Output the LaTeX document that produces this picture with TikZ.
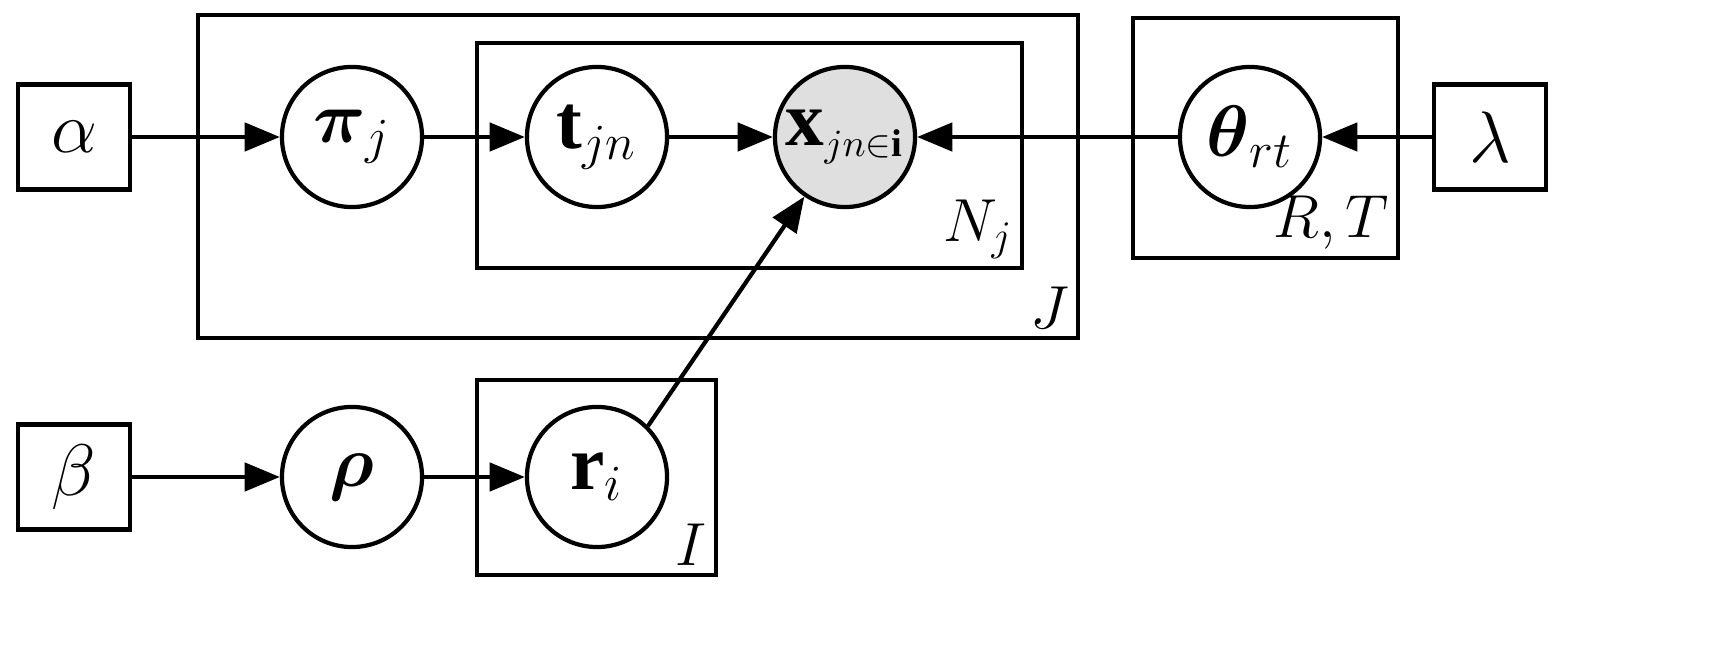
\documentclass[tikz,border=0pt]{standalone}
\usepackage{amsmath}
\usepackage{fontspec}
\setmainfont{Liberation Serif}
\usetikzlibrary{arrows.meta}

\begin{document}
\begin{tikzpicture}[x=0.01cm,y=-0.01cm]
\tikzstyle{every path}=[very thick]
\tikzstyle{var}=[circle,draw,minimum size=1.4cm,inner sep=0pt,font=\fontsize{22}{26}\selectfont]
\tikzstyle{hyper}=[draw,minimum width=1.12cm,minimum height=1.05cm,inner sep=0pt,font=\fontsize{22}{26}\selectfont]
\tikzstyle{plate}=[draw,very thick]
\tikzstyle{platelabel}=[anchor=south east,inner sep=2pt,font=\fontsize{17}{20}\selectfont]
\tikzstyle{edge}=[-{Triangle[length=10pt,width=8pt]},very thick]

\useasboundingbox (0,0) rectangle (1735,655);

%% Plates
\draw [plate] (198,15) rectangle (1078,338);
\node [platelabel] at (1078,338) {$J$};
\draw [plate] (477,43) rectangle (1022,268);
\node [platelabel] at (1022,268) {$N_j$};
\draw [plate] (1133,18) rectangle (1398,258);
\node [platelabel] at (1398,258) {$R,T$};
\draw [plate] (477,380) rectangle (716,575);
\node [platelabel] at (716,575) {$I$};

%% Variables
\node [hyper] (alpha) at (74,137) {$\alpha$};
\node [var] (pi) at (352,137) {$\boldsymbol{\pi}_{j}$};
\node [var] (t) at (597,137) {$\mathbf{t}_{jn}$};
\node [var,fill=gray!25] (x) at (845,137) {$\mathbf{x}_{\scriptscriptstyle jn\in\mathbf{i}}$};
\node [var] (theta) at (1250,137) {$\boldsymbol{\theta}_{rt}$};
\node [hyper] (lambda) at (1490,137) {$\lambda$};
\node [hyper] (beta) at (74,477) {$\beta$};
\node [var] (rho) at (352,477) {$\boldsymbol{\rho}$};
\node [var] (r) at (597,477) {$\mathbf{r}_{i}$};

%% Edges
\draw [edge] (alpha) -- (pi);
\draw [edge] (pi) -- (t);
\draw [edge] (t) -- (x);
\draw [edge] (theta) -- (x);
\draw [edge] (lambda) -- (theta);
\draw [edge] (beta) -- (rho);
\draw [edge] (rho) -- (r);
\draw [edge] (r.north east) -- (x);
\end{tikzpicture}
\end{document}
